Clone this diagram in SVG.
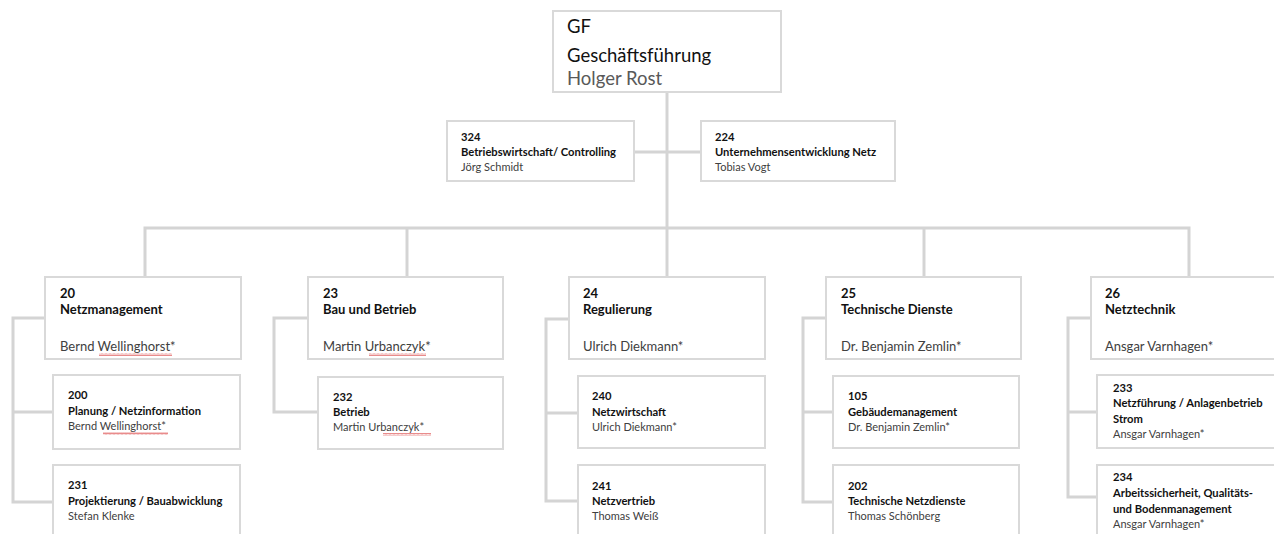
<svg xmlns="http://www.w3.org/2000/svg" width="1274" height="534" viewBox="0 0 1274 534">
<defs>
<pattern id="sq" width="4" height="3" patternUnits="userSpaceOnUse"><path d="M0 2.5 L1 0.5 L2 2.5 L3 0.5 L4 2.5" fill="none" stroke="#e05a5a" stroke-width="0.7"/></pattern>
</defs>
<style>
.box{fill:#fff;stroke:#d9d9d9;stroke-width:2}
.con{fill:none;stroke:#d4d4d4;stroke-width:3}
text{font-family:Lato,"Liberation Sans",sans-serif}
.t1{font-size:18.5px;fill:#111}
.t1n{font-size:18.5px;fill:#595959}
.n{font-size:11.2px;font-weight:bold;fill:#111}
.nm{font-size:11px;fill:#404040}
.n3{font-size:13px;font-weight:bold;fill:#111}
.nm3{font-size:13px;fill:#404040}
</style>
<rect width="1274" height="534" fill="#fff"/>
<g id="connectors">
<path class="con" d="M667 92 V228"/>
<path class="con" d="M634 152 H701"/>
<path class="con" d="M145 277 V228 H1189 V277"/>
<path class="con" d="M407 228 V277"/>
<path class="con" d="M667 228 V277"/>
<path class="con" d="M924 228 V277"/>
<path class="con" d="M45 318 H13 V502 H53 M13 412 H53"/>
<path class="con" d="M308 318 H274 V412 H318"/>
<path class="con" d="M569 319 H546 V501 H578 M546 413 H578"/>
<path class="con" d="M826 318 H803 V502 H833 M803 412 H833"/>
<path class="con" d="M1091 318 H1068 V497 H1097 M1068 412 H1097"/>
</g>
<g id="gf">
<rect class="box" x="553" y="11" width="228" height="81"/>
<text class="t1" x="567" y="33">GF</text>
<text class="t1" x="567" y="62">Geschäftsführung</text>
<text class="t1n" x="567" y="85">Holger Rost</text>
</g>
<g id="n324">
<rect class="box" x="447" y="121" width="187" height="60"/>
<text class="n" x="461" y="141">324</text>
<text class="n" x="461" y="156">Betriebswirtschaft/ Controlling</text>
<text class="nm" x="461" y="171">Jörg Schmidt</text>
</g>
<g id="n224">
<rect class="box" x="701" y="121" width="194" height="60"/>
<text class="n" x="715" y="141">224</text>
<text class="n" x="715" y="156">Unternehmensentwicklung Netz</text>
<text class="nm" x="715" y="171">Tobias Vogt</text>
</g>
<g id="n20">
<rect class="box" x="45" y="277" width="196" height="82"/>
<text class="n3" x="60" y="298">20</text>
<text class="n3" x="60" y="314">Netzmanagement</text>
<text class="nm3" x="60" y="351">Bernd Wellinghorst*</text>
<rect x="99" y="353" width="73" height="3" fill="url(#sq)"/>
</g>
<g id="n23">
<rect class="box" x="308" y="277" width="195" height="82"/>
<text class="n3" x="323" y="298">23</text>
<text class="n3" x="323" y="314">Bau und Betrieb</text>
<text class="nm3" x="323" y="351">Martin Urbanczyk*</text>
<rect x="369" y="353" width="57" height="3" fill="url(#sq)"/>
</g>
<g id="n24">
<rect class="box" x="569" y="277" width="196" height="82"/>
<text class="n3" x="583" y="298">24</text>
<text class="n3" x="583" y="314">Regulierung</text>
<text class="nm3" x="583" y="351">Ulrich Diekmann*</text>
</g>
<g id="n25">
<rect class="box" x="826" y="277" width="195" height="82"/>
<text class="n3" x="841" y="298">25</text>
<text class="n3" x="841" y="314">Technische Dienste</text>
<text class="nm3" x="841" y="351">Dr. Benjamin Zemlin*</text>
</g>
<g id="n26">
<rect class="box" x="1091" y="277" width="196" height="82"/>
<text class="n3" x="1105" y="298">26</text>
<text class="n3" x="1105" y="314">Netztechnik</text>
<text class="nm3" x="1105" y="351">Ansgar Varnhagen*</text>
</g>
<g id="n200">
<rect class="box" x="53" y="375" width="187" height="74"/>
<text class="n" x="68" y="399">200</text>
<text class="n" x="68" y="415">Planung / Netzinformation</text>
<text class="nm" x="68" y="430">Bernd Wellinghorst*</text>
<rect x="103" y="432" width="65" height="3" fill="url(#sq)"/>
</g>
<g id="n231">
<rect class="box" x="53" y="465" width="187" height="80"/>
<text class="n" x="68" y="489">231</text>
<text class="n" x="68" y="505">Projektierung / Bauabwicklung</text>
<text class="nm" x="68" y="520">Stefan Klenke</text>
</g>
<g id="n232">
<rect class="box" x="318" y="377" width="185" height="72"/>
<text class="n" x="333" y="401">232</text>
<text class="n" x="333" y="416">Betrieb</text>
<text class="nm" x="333" y="431">Martin Urbanczyk*</text>
<rect x="383" y="433" width="48" height="3" fill="url(#sq)"/>
</g>
<g id="n240">
<rect class="box" x="578" y="376" width="187" height="72"/>
<text class="n" x="592" y="400">240</text>
<text class="n" x="592" y="416">Netzwirtschaft</text>
<text class="nm" x="592" y="431">Ulrich Diekmann*</text>
</g>
<g id="n241">
<rect class="box" x="578" y="465" width="187" height="80"/>
<text class="n" x="592" y="490">241</text>
<text class="n" x="592" y="505">Netzvertrieb</text>
<text class="nm" x="592" y="520">Thomas Weiß</text>
</g>
<g id="n105">
<rect class="box" x="833" y="376" width="186" height="72"/>
<text class="n" x="848" y="400">105</text>
<text class="n" x="848" y="416">Gebäudemanagement</text>
<text class="nm" x="848" y="431">Dr. Benjamin Zemlin*</text>
</g>
<g id="n202">
<rect class="box" x="833" y="465" width="186" height="80"/>
<text class="n" x="848" y="490">202</text>
<text class="n" x="848" y="505">Technische Netzdienste</text>
<text class="nm" x="848" y="520">Thomas Schönberg</text>
</g>
<g id="n233">
<rect class="box" x="1097" y="375" width="190" height="73"/>
<text class="n" x="1113" y="392">233</text>
<text class="n" x="1113" y="407">Netzführung / Anlagenbetrieb</text>
<text class="n" x="1113" y="423">Strom</text>
<text class="nm" x="1113" y="438">Ansgar Varnhagen*</text>
</g>
<g id="n234">
<rect class="box" x="1097" y="465" width="190" height="80"/>
<text class="n" x="1113" y="481">234</text>
<text class="n" x="1113" y="497">Arbeitssicherheit, Qualitäts-</text>
<text class="n" x="1113" y="513">und Bodenmanagement</text>
<text class="nm" x="1113" y="528">Ansgar Varnhagen*</text>
</g>
</svg>
